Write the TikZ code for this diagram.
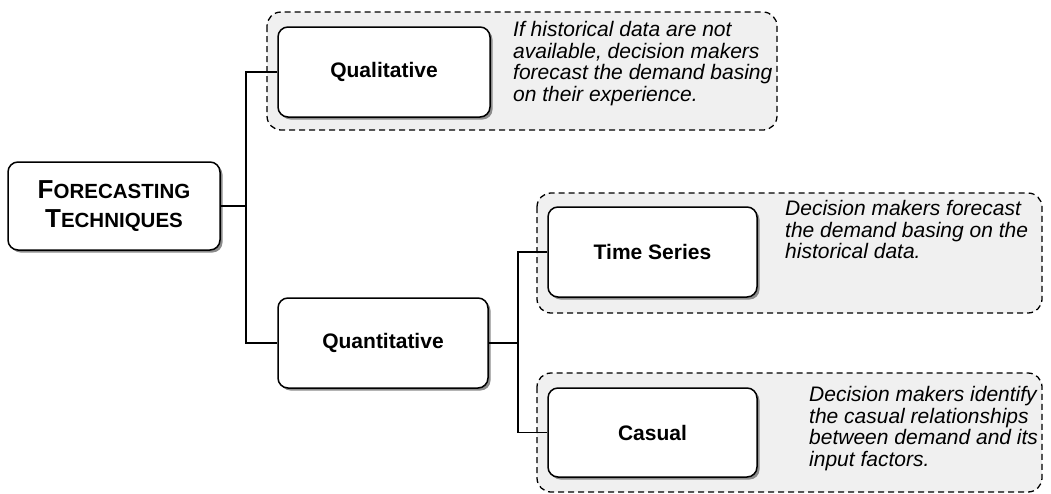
\documentclass[tikz,border=0pt]{standalone}
\usepackage{fontspec}
\setmainfont{Liberation Sans}
\usetikzlibrary{positioning,shadows}
\definecolor{notegray}{RGB}{240,240,240}
\newcommand{\capword}[2]{{\fontsize{26}{29}\selectfont #1}#2}

\begin{document}
\begin{tikzpicture}[x=1pt,y=-1pt,
    box/.style={draw,line width=1.5pt,rounded corners=10pt,fill=white,
      drop shadow={shadow xshift=2.5pt,shadow yshift=-2.5pt,fill=black!45,opacity=1},
      font=\bfseries\fontsize{21}{24}\selectfont,inner sep=0pt},
    note/.style={draw,line width=1.3pt,dash pattern=on 6pt off 4pt,rounded corners=14pt,fill=notegray},
    desc/.style={anchor=north west,align=left,inner sep=0pt,font=\itshape\fontsize{21}{21.6}\selectfont},
    link/.style={line width=1.3pt}]
\useasboundingbox (0,0) rectangle (1051,493);
% dashed frames
\draw[note] (267,12) rectangle (777,130);
\draw[note] (537,193) rectangle (1042,313);
\draw[note] (537,373) rectangle (1042,492);
% descriptions
\node[desc] (qualtxt) at (513,21) {If historical data are not\\available, decision makers\\forecast the demand basing\\on their experience.};
\node[desc] (tstxt) at (785,200) {Decision makers forecast\\the demand basing on the\\historical data.};
\node[desc] (castxt) at (809,386) {Decision makers identify\\the casual relationships\\between demand and its\\input factors.};
% joints
\coordinate (j1) at (246,206);
\coordinate (j2) at (518,343);
% boxes
\node[box,minimum width=212,minimum height=88,align=center,font=\bfseries\fontsize{20.5}{29}\selectfont] (tech) at (114,206) {\capword{F}{ORECASTING}\\\capword{T}{ECHNIQUES}};
\node[box,minimum width=212,minimum height=90] (qual) at (384,72) {Qualitative};
\node[box,minimum width=210,minimum height=90] (quan) at (383,343) {Quantitative};
\node[box,minimum width=209,minimum height=90] (ts) at (652.5,252) {Time Series};
\node[box,minimum width=209,minimum height=89] (cas) at (652.5,432.5) {Casual};
% connectors
\draw[link] (tech.east) -- (j1);
\draw[link] (qual.west) -| (j1) |- (quan.west);
\draw[link] (quan.east) -- (j2);
\draw[link] (ts.west) -| (j2) |- (cas.west);
\end{tikzpicture}
\end{document}
